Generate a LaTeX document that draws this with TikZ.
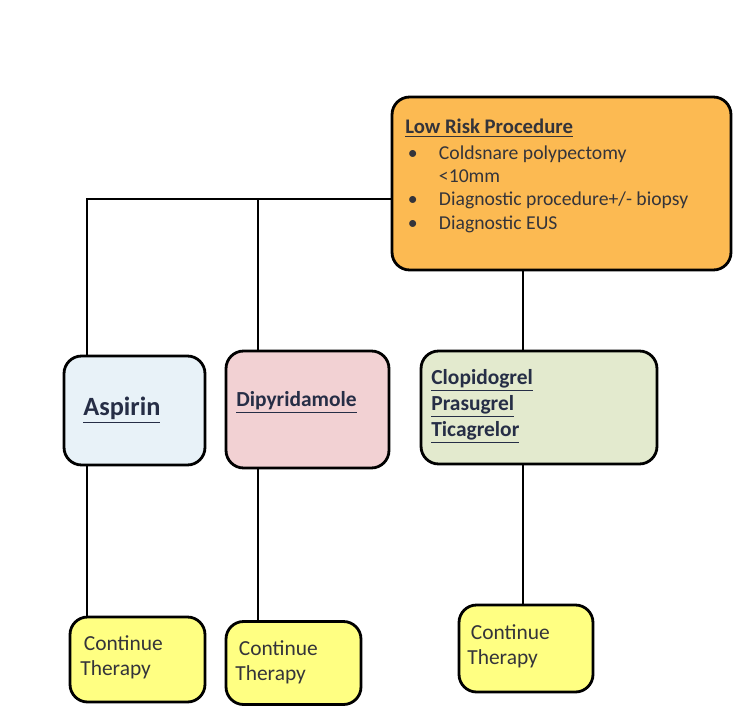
\documentclass[tikz,border=0pt]{standalone}
\usepackage{fontspec}
\setmainfont{Carlito}
\usepackage{xcolor}
\usetikzlibrary{positioning, calc}
\definecolor{riskOrange}{RGB}{252,186,82}
\definecolor{aspBlue}{RGB}{232,242,248}
\definecolor{dipPink}{RGB}{242,209,211}
\definecolor{clopGreen}{RGB}{227,234,206}
\definecolor{contYellow}{RGB}{255,255,130}
\definecolor{textInk}{RGB}{52,52,58}
\definecolor{drugInk}{RGB}{38,46,70}
\newcommand{\bul}{\hspace*{1.5pt}\makebox[0.62cm][l]{\textbullet}}

\begin{document}
\begin{tikzpicture}[x=0.02cm, y=-0.02cm,
      card/.style={rounded corners=10pt, draw=black, line width=1.6pt, inner sep=0pt},
      body/.style={font=\fontsize{11.2}{13.3}\selectfont, text=textInk, align=left, inner sep=0pt},
      drug/.style={font=\bfseries\fontsize{12.2}{14.7}\selectfont, text=drugInk, align=left, inner sep=0pt},
      cont/.style={font=\fontsize{12.2}{14.2}\selectfont, text=textInk, align=left, inner sep=0pt},
      wire/.style={line width=1.1pt, draw=black}
    ]
    \useasboundingbox (0,0) rectangle (733,706);

    \node[card, fill=riskOrange, minimum width=6.78cm, minimum height=3.46cm] (low) at (561.5,183.5) {};
    \node[card, fill=aspBlue, minimum width=2.82cm, minimum height=2.18cm] (asp) at (134.5,410.5) {};
    \node[card, fill=dipPink, minimum width=3.26cm, minimum height=2.34cm] (dip) at (307.5,409.5) {};
    \node[card, fill=clopGreen, minimum width=4.72cm, minimum height=2.26cm] (clo) at (539,407.5) {};
    \node[card, fill=contYellow, minimum width=2.70cm, minimum height=1.70cm] (contA) at (137.5,659.5) {};
    \node[card, fill=contYellow, minimum width=2.70cm, minimum height=1.66cm] (contD) at (293.5,663) {};
    \node[card, fill=contYellow, minimum width=2.68cm, minimum height=1.74cm] (contC) at (526,648.5) {};

    \node[body, anchor=north west] (lowtxt) at (405,119)
    {\underline{\textbf{\fontsize{11.8}{13.3}\selectfont Low Risk Procedure}}\\[1pt]
     \bul Coldsnare polypectomy\\
     \hspace*{1.5pt}\hspace*{0.62cm}<10mm\\
     \bul Diagnostic procedure+/- biopsy\\
     \bul Diagnostic EUS};
    \node[drug, font=\bfseries\fontsize{15}{17}\selectfont, anchor=west] (asptxt) at (83,410) {\underline{Aspirin}};
    \node[drug, anchor=west] (diptxt) at (236,402) {\underline{Dipyridamole}};
    \node[drug, anchor=north west] (clotxt) at (431,369)
    {\underline{Clopidogrel}\\\underline{Prasugrel}\\\underline{Ticagrelor}};
    \node[cont, anchor=west] (contAtxt) at (80,657) {\hspace*{2pt}Continue\\Therapy};
    \node[cont, anchor=west] (contDtxt) at (235,662) {\hspace*{2pt}Continue\\Therapy};
    \node[cont, anchor=west] (contCtxt) at (467,646) {\hspace*{2pt}Continue\\Therapy};

    \coordinate (jA) at (87,199);
    \coordinate (jD) at (258,199);
    \coordinate (jC) at (523,300);
    \draw[wire] (low.west |- jA) -- (jA) -- (jA |- asp.north);
    \draw[wire] (jD) -- (jD |- dip.north);
    \draw[wire] (jC |- low.south) -- (jC |- clo.north);
    \draw[wire] (jA |- asp.south) -- (jA |- contA.north);
    \draw[wire] (jD |- dip.south) -- (jD |- contD.north);
    \draw[wire] (jC |- clo.south) -- (jC |- contC.north);
  \end{tikzpicture}
\end{document}
